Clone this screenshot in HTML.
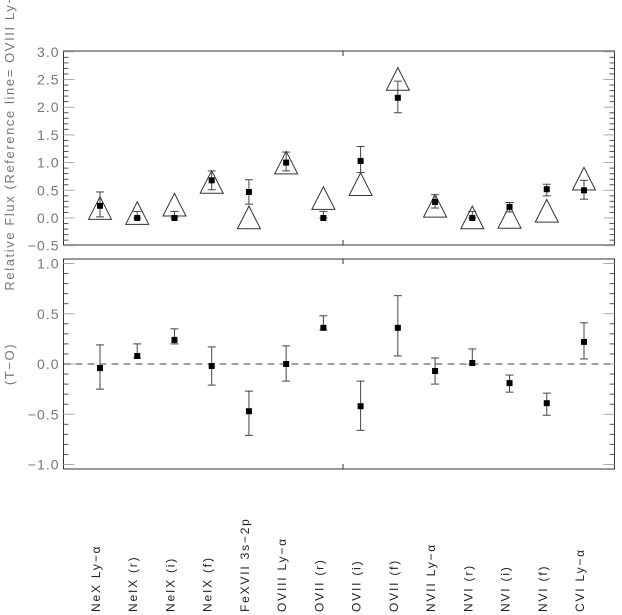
<!DOCTYPE html>
<html><head><meta charset="utf-8"><style>
html,body{margin:0;padding:0;background:#fff;}
svg{display:block;font-family:"Liberation Sans",sans-serif;}
</style></head><body>
<svg id="c" width="622" height="615" viewBox="0 0 622 615">
<text transform="translate(14,135) rotate(-90)" text-anchor="middle" font-size="13" letter-spacing="1.6" fill="#777">Relative Flux (Reference line= OVIII Ly−α)</text>
<text transform="translate(14,364) rotate(-90)" text-anchor="middle" font-size="13" letter-spacing="1.6" fill="#777">(T−O)</text>
</svg>
<script>
const categories=["NeX Ly−α","NeIX (r)","NeIX (i)","NeIX (f)","FeXVII 3s−2p","OVIII Ly−α","OVII (r)","OVII (i)","OVII (f)","NVII Ly−α","NVI (r)","NVI (i)","NVI (f)","CVI Ly−α"];
const obsFlux=[0.22,0.0,0.0,0.68,0.47,1.0,0.0,1.03,2.17,0.29,0.0,0.2,0.52,0.5];
const obsFluxHi=[0.47,0.12,0.12,0.85,0.69,1.19,0.12,1.29,2.47,0.42,0.12,0.28,0.61,0.68];
const obsFluxLo=[0.02,0.0,0.0,0.51,0.25,0.85,0.0,0.82,1.9,0.18,0.0,0.11,0.4,0.34];
const modelFlux=[0.18,0.09,0.24,0.65,0.01,1.0,0.36,0.61,2.51,0.22,0.01,0.02,0.13,0.71];
const diff=[-0.04,0.08,0.24,-0.02,-0.47,0.0,0.36,-0.42,0.36,-0.07,0.01,-0.19,-0.39,0.22];
const diffHi=[0.19,0.2,0.35,0.17,-0.27,0.18,0.48,-0.17,0.68,0.06,0.15,-0.11,-0.29,0.41];
const diffLo=[-0.25,0.06,0.2,-0.21,-0.71,-0.17,0.34,-0.66,0.08,-0.2,0.0,-0.28,-0.51,0.05];
const topTicks=["−0.5","0.0","0.5","1.0","1.5","2.0","2.5","3.0"];
const botTicks=["−1.0","−0.5","0.0","0.5","1.0"];

const svg=document.getElementById('c');
const NS="http://www.w3.org/2000/svg";
function mk(tag,attrs,parent){const e=document.createElementNS(NS,tag);for(const k in attrs)e.setAttribute(k,attrs[k]);(parent||svg).appendChild(e);return e;}
const L=63.5,R=614.5;
const x=i=>100+37.23*i;
const yT=v=>218-55.4*v;
const yB=v=>364-100.5*v;

function frame(top,bot,name,yf,vmin,vmax,labels){
  const g=mk('g',{});
  
  
  mk('rect',{x:L,y:top,width:R-L,height:bot-top,fill:'none',stroke:'#333','stroke-width':1},g);
  mk('line',{x1:343,x2:343,y1:top,y2:top+5,stroke:'#333'},g);
  mk('line',{x1:343,x2:343,y1:bot,y2:bot-5,stroke:'#333'},g);
  const n=Math.round((vmax-vmin)/0.1);
  for(let k=0;k<=n;k++){
    const v=vmin+k*0.1, yy=yf(v), major=(k%5===0), len=major?11:5;
    mk('line',{x1:L,x2:L+len,y1:yy,y2:yy,stroke:major?'#aaa':'#555'},g);
    mk('line',{x1:R,x2:R-len,y1:yy,y2:yy,stroke:major?'#aaa':'#555'},g);
  }
  labels.forEach((t,i)=>{
    const v=vmin+i*0.5;
    const tx=mk('text',{x:L-4,y:yf(v)+5,'text-anchor':'end','font-size':14,'letter-spacing':1,fill:'#777'},g);
    
    
    tx.textContent=t;
  });
}
frame(51,245,'top-panel-frame',yT,-0.5,3.0,topTicks);
frame(259,469,'bottom-panel-frame',yB,-1.0,1.0,botTicks);

const zl=mk('line',{x1:L,x2:R,y1:yB(0),y2:yB(0),stroke:'#444','stroke-dasharray':'7,5'});



function errbar(xx,y1,y2,name){
  const g=mk('g',{stroke:'#444','stroke-width':1});
  
  
  mk('line',{x1:xx,x2:xx,y1:y1,y2:y2},g);
  mk('line',{x1:xx-4,x2:xx+4,y1:y1,y2:y1},g);
  mk('line',{x1:xx-4,x2:xx+4,y1:y2,y2:y2},g);
}
function sq(xx,yy,name){
  const r=mk('rect',{x:xx-3,y:yy-3,width:6,height:6,fill:'#000'});
  
  
}
categories.forEach((c,i)=>{
  const xx=x(i);
  const yc=yT(modelFlux[i]);
  const t=mk('polygon',{points:`${xx},${yc-11.3} ${xx-11.5},${yc+11.3} ${xx+11.5},${yc+11.3}`,fill:'none',stroke:'#333'});
  
  
  errbar(xx,yT(obsFluxHi[i]),yT(obsFluxLo[i]),'flux-error-bar');
  sq(xx,yT(obsFlux[i]),'observed-flux-point');
  errbar(xx,yB(diffHi[i]),yB(diffLo[i]),'diff-error-bar');
  sq(xx,yB(diff[i]),'diff-point');
  const lab=mk('text',{transform:`translate(${xx},612) rotate(-90)`,'font-size':12,'letter-spacing':1.8,fill:'#222'});
  
  
  lab.textContent=c;
});
</script>
</body></html>
